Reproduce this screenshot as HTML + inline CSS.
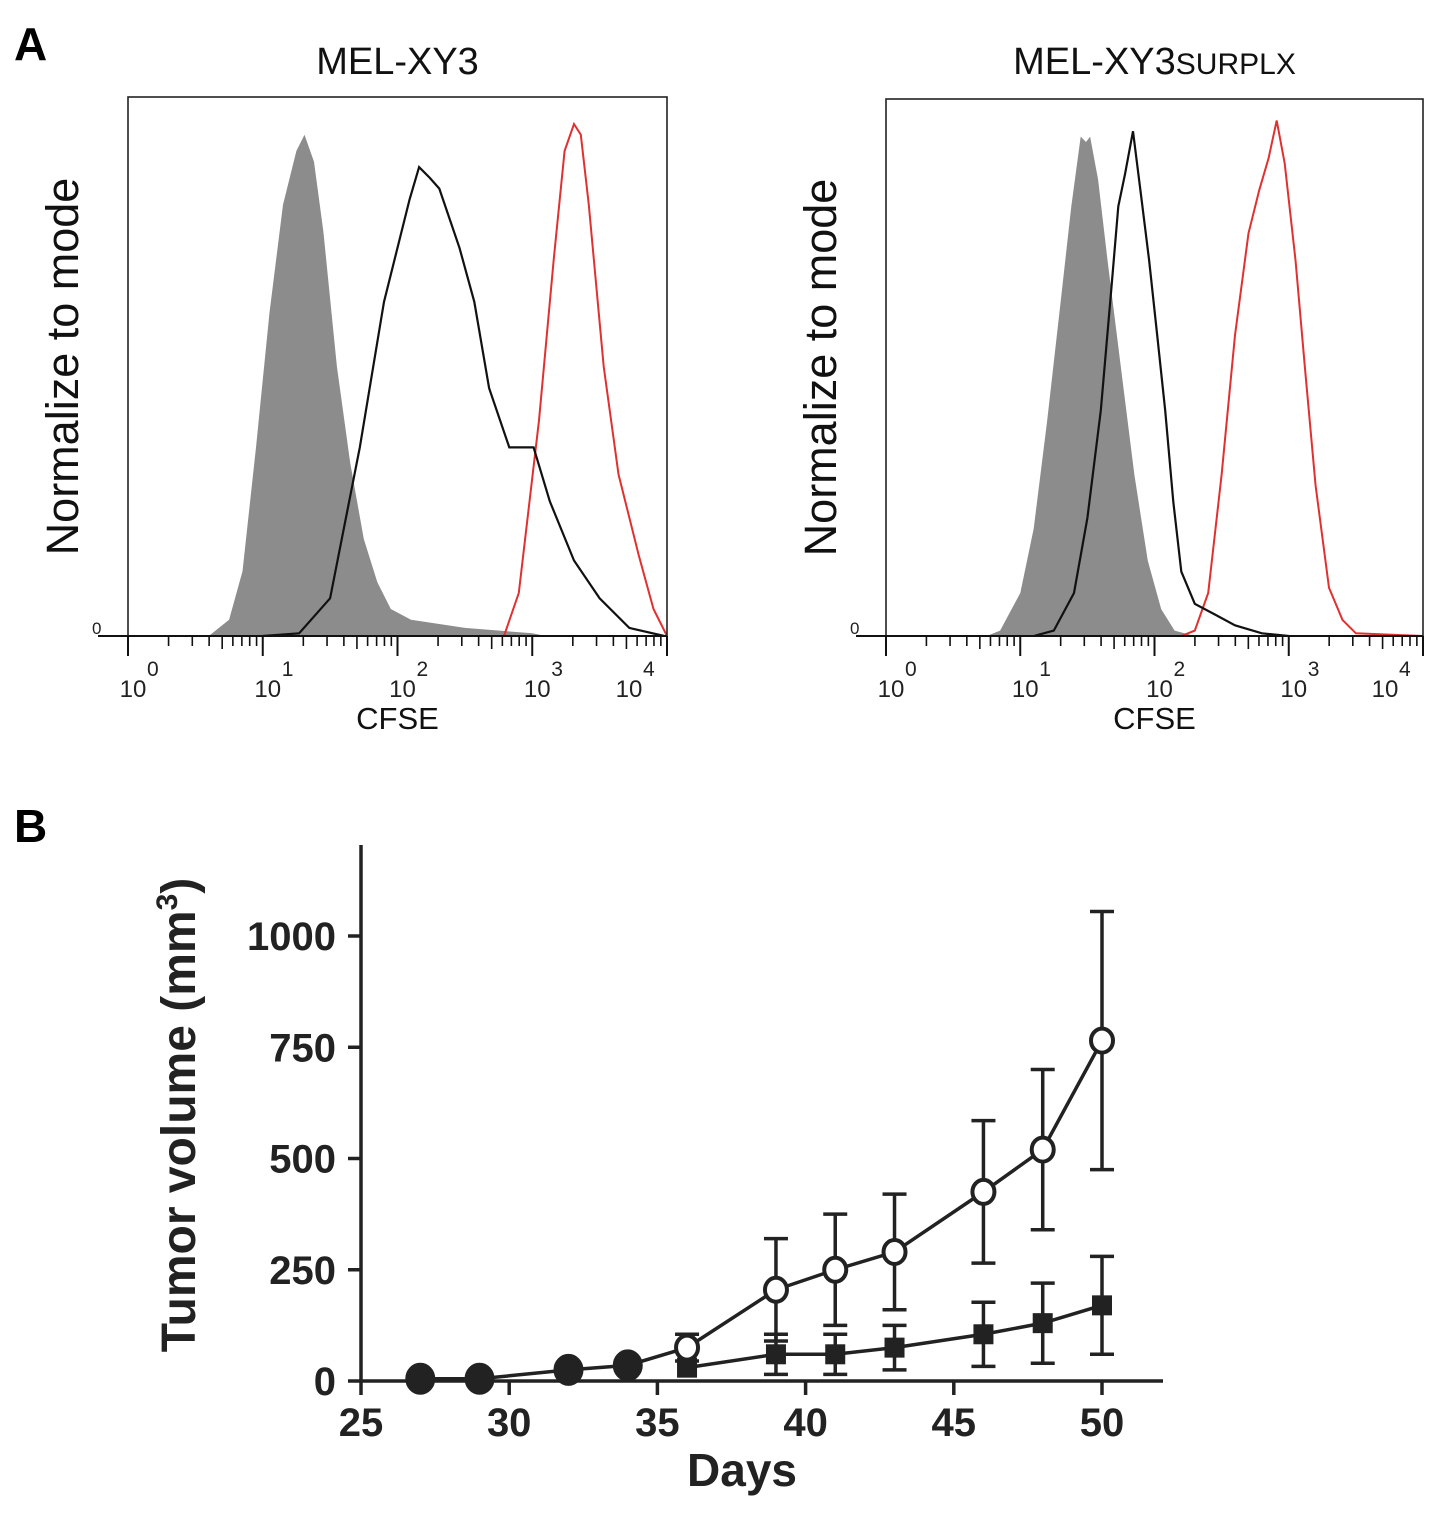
<!DOCTYPE html>
<html><head><meta charset="utf-8"><style>
html,body{margin:0;padding:0;background:#fff;}
svg{display:block;}
text{font-family:"Liberation Sans",Arial,sans-serif;}
</style></head><body>
<svg id="fig" width="1441" height="1540" viewBox="0 0 1441 1540" xmlns="http://www.w3.org/2000/svg">
<text x="14" y="60" font-size="46" font-weight="bold">A</text>
<text x="14" y="842" font-size="46" font-weight="bold">B</text>
<g id="panelA"></g>
<g id="panelB"></g>
</svg>
<script>
// ===== Panel A data: [log10 CFSE, fraction of mode] =====
const leftGray=[[0.6,0],[0.75,0.03],[0.85,0.12],[0.95,0.35],[1.05,0.6],[1.15,0.8],[1.25,0.9],[1.31,0.93],[1.38,0.88],[1.45,0.75],[1.55,0.5],[1.65,0.32],[1.75,0.18],[1.85,0.1],[1.95,0.05],[2.1,0.03],[2.5,0.015],[3.0,0.005],[3.1,0]];
const leftBlack=[[1.0,0],[1.27,0.005],[1.5,0.07],[1.72,0.35],[1.9,0.62],[2.09,0.81],[2.16,0.87],[2.24,0.85],[2.31,0.83],[2.46,0.72],[2.57,0.62],[2.68,0.46],[2.83,0.35],[3.01,0.35],[3.13,0.25],[3.31,0.14],[3.5,0.07],[3.72,0.015],[3.98,0]];
const leftRed=[[0,0],[2.79,0],[2.9,0.08],[3.05,0.4],[3.16,0.7],[3.24,0.9],[3.31,0.95],[3.36,0.93],[3.42,0.8],[3.53,0.5],[3.64,0.3],[3.79,0.15],[3.9,0.05],[4.0,0]];
const rightGray=[[0.75,0],[0.85,0.01],[1.0,0.08],[1.1,0.2],[1.2,0.4],[1.3,0.62],[1.38,0.8],[1.45,0.93],[1.49,0.92],[1.52,0.93],[1.58,0.85],[1.65,0.7],[1.75,0.5],[1.85,0.3],[1.95,0.14],[2.05,0.05],[2.15,0.01],[2.3,0]];
const rightBlack=[[1.1,0],[1.25,0.01],[1.4,0.08],[1.5,0.22],[1.6,0.42],[1.68,0.65],[1.73,0.8],[1.78,0.86],[1.84,0.94],[1.9,0.82],[1.96,0.7],[2.02,0.56],[2.08,0.42],[2.14,0.25],[2.2,0.12],[2.3,0.06],[2.45,0.04],[2.6,0.02],[2.8,0.005],[3.0,0]];
const rightRed=[[0,0],[2.2,0],[2.3,0.01],[2.4,0.08],[2.5,0.3],[2.6,0.56],[2.7,0.75],[2.78,0.83],[2.85,0.89],[2.91,0.96],[2.97,0.88],[3.05,0.7],[3.12,0.5],[3.2,0.28],[3.3,0.09],[3.4,0.03],[3.5,0.005],[4.0,0]];
const decadeLabels=["0","1","2","3","4"];
// ===== Panel B data =====
const days=[27,29,32,34,36,39,41,43,46,48,50];
const ctrlMean=[5,5,25,35,75,205,250,290,425,520,765];
const ctrlErr=[0,0,0,0,30,115,125,130,160,180,290];
const trtDays=[36,39,41,43,46,48,50];
const trtMean=[30,60,60,75,105,130,170];
const trtErr=[0,45,45,50,72,90,110];
const yTicks=[0,250,500,750,1000];
const xTicks=[25,30,35,40,45,50];

const NS="http://www.w3.org/2000/svg";
function mk(tag,attrs,parent){const e=document.createElementNS(NS,tag);for(const k in attrs)e.setAttribute(k,attrs[k]);parent.appendChild(e);return e;}

function histPanel(g,x0,x1,y0,y1,title,sub,gray,black,red,yLabX){
  const sx=v=>x0+(x1-x0)*v/4, sy=f=>y1-(y1-y0)*f;
  const path=arr=>arr.map((p,i)=>(i?'L':'M')+sx(p[0]).toFixed(1)+','+sy(p[1]).toFixed(1)).join('');
  let e=mk('path',{d:path(gray)+'Z',fill:'#8c8c8c'},g);
  
  
  e=mk('path',{d:path(red),fill:'none',stroke:'#e03030','stroke-width':2},g);
  
  
  e=mk('path',{d:path(black),fill:'none',stroke:'#111','stroke-width':2.2},g);
  
  
  e=mk('rect',{x:x0,y:y0,width:x1-x0,height:y1-y0,fill:'none',stroke:'#222','stroke-width':1.6},g);
  
  
  mk('line',{x1:x0-30,y1:y1,x2:x1,y2:y1,stroke:'#111','stroke-width':2},g);
  for(let d=0;d<=4;d++){
    mk('line',{x1:sx(d),y1:y1,x2:sx(d),y2:y1+20,stroke:'#111','stroke-width':2},g);
    if(d<4)for(let m=2;m<=9;m++){const xv=sx(d+Math.log10(m));mk('line',{x1:xv,y1:y1,x2:xv,y2:y1+(m==5?13:10),stroke:'#111','stroke-width':1.6},g);}
    const off=d==4?-38:5;
    const t=mk('text',{x:sx(d)+off,y:y1+61,'font-size':24,'text-anchor':'middle',fill:'#222'},g);
    t.textContent='10';
    
    
    const s=mk('text',{x:sx(d)+off+14,y:y1+40,'font-size':21,fill:'#222'},g);s.textContent=decadeLabels[d];
  }
  let z=mk('text',{x:x0-36,y:y1-2,'font-size':17,fill:'#222'},g);z.textContent='0';
  let c=mk('text',{x:x0+(x1-x0)*0.5,y:y1+93,'font-size':31,'text-anchor':'middle',fill:'#111'},g);c.textContent='CFSE';
  
  
  let yl=mk('text',{x:0,y:0,'font-size':45,'text-anchor':'middle',fill:'#111',transform:`translate(${yLabX},${(y0+y1)/2}) rotate(-90)`},g);
  yl.textContent='Normalize to mode';
  
  
  let tt=mk('text',{x:(x0+x1)/2,y:74,'font-size':38,'text-anchor':'middle',fill:'#111'},g);
  
  
  tt.appendChild(document.createTextNode(title));
  if(sub){const ts=document.createElementNS(NS,'tspan');ts.setAttribute('font-size','30');ts.textContent=sub;tt.appendChild(ts);}
}
const A=document.getElementById('panelA');
const gL=mk('g',{},A);
histPanel(gL,128,667,97,636,'MEL-XY3','',leftGray,leftBlack,leftRed,78);
const gR=mk('g',{},A);
histPanel(gR,886,1423,99,636,'MEL-XY3','SURPLX',rightGray,rightBlack,rightRed,836);

// Panel B
const B=document.getElementById('panelB');
const bx=d=>361+(d-25)*(1102-361)/25, by=v=>1381-v*(1381-936)/1000;
mk('line',{x1:361,y1:845,x2:361,y2:1382,stroke:'#222','stroke-width':3.5},B);
mk('line',{x1:359,y1:1381,x2:1163,y2:1381,stroke:'#222','stroke-width':3.5},B);
yTicks.forEach(v=>{mk('line',{x1:348,y1:by(v),x2:361,y2:by(v),stroke:'#222','stroke-width':3.5},B);
  const t=mk('text',{x:336,y:by(v)+14,'font-size':40,'font-weight':'bold','text-anchor':'end',fill:'#222'},B);t.textContent=v;
  
  });
xTicks.forEach(v=>{mk('line',{x1:bx(v),y1:1381,x2:bx(v),y2:1395,stroke:'#222','stroke-width':3.5},B);
  const t=mk('text',{x:bx(v),y:1436,'font-size':40,'font-weight':'bold','text-anchor':'middle',fill:'#222'},B);t.textContent=v;
  
  });
let dl=mk('text',{x:742,y:1486,'font-size':46,'font-weight':'bold','text-anchor':'middle',fill:'#222'},B);dl.textContent='Days';


let tv=mk('text',{x:0,y:0,'font-size':48,'font-weight':'bold','text-anchor':'middle',fill:'#222',transform:'translate(195,1115) rotate(-90)'},B);


tv.appendChild(document.createTextNode('Tumor volume (mm'));
const sup=document.createElementNS(NS,'tspan');sup.setAttribute('font-size','30');sup.setAttribute('dy','-18');sup.textContent='3';tv.appendChild(sup);
const cl=document.createElementNS(NS,'tspan');cl.setAttribute('dy','18');cl.textContent=')';tv.appendChild(cl);

function errBars(ds,ms,es){ds.forEach((d,i)=>{if(!es[i])return;const x=bx(d);
  mk('line',{x1:x,y1:by(ms[i]+es[i]),x2:x,y2:by(Math.max(ms[i]-es[i],-5)),stroke:'#222','stroke-width':3.5},B);
  [ms[i]+es[i],ms[i]-es[i]].forEach(v=>{if(v>0)mk('line',{x1:x-12,y1:by(v),x2:x+12,y2:by(v),stroke:'#222','stroke-width':3.5},B);});});}
errBars(trtDays,trtMean,trtErr);errBars(days,ctrlMean,ctrlErr);
let lt=mk('path',{d:trtDays.map((d,i)=>(i?'L':'M')+bx(d)+','+by(trtMean[i])).join(''),fill:'none',stroke:'#222','stroke-width':3.5},B);


let lc=mk('path',{d:days.map((d,i)=>(i?'L':'M')+bx(d)+','+by(ctrlMean[i])).join(''),fill:'none',stroke:'#222','stroke-width':3.5},B);


trtDays.forEach((d,i)=>{const r=mk('rect',{x:bx(d)-10,y:by(trtMean[i])-10,width:20,height:20,fill:'#222'},B);
  
  });
days.forEach((d,i)=>{const filled=d<36;
  const c=mk('ellipse',{cx:bx(d),cy:by(ctrlMean[i]),rx:filled?13:11,ry:filled?14:12,fill:filled?'#222':'#fff',stroke:'#222','stroke-width':4},B);
  
  });
</script>
</body></html>
